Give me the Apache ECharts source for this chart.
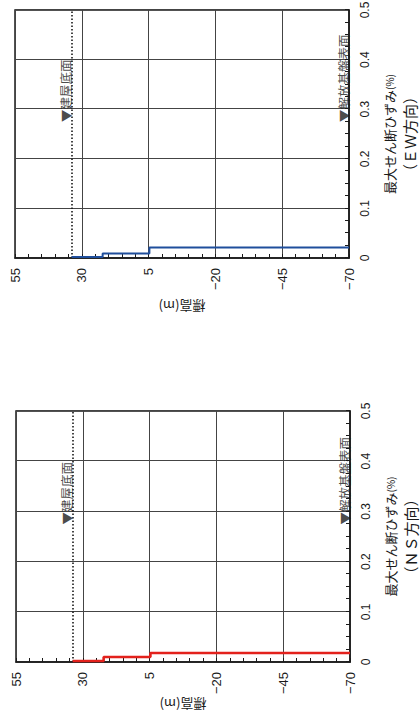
<!DOCTYPE html>
<html><head><meta charset="utf-8">
<script src="https://cdn.jsdelivr.net/npm/echarts@6/dist/echarts.min.js"></script>
<style>
html,body{margin:0;padding:0;background:#fff;overflow:hidden;width:420px;height:722px;}
#wrap{position:absolute;left:0;top:0;width:722px;height:420px;transform-origin:0 0;transform:translate(0,722px) rotate(-90deg);}
#chart{width:722px;height:420px;}
</style></head><body>
<div id="wrap"><div id="chart"></div></div>
<script>
// ---- data ----
const panelNames = ['NS', 'EW'];
const layerTop = [33.8, 22.2, 4.7];       // elevation (m), top of each layer
const layerBottom = [22.2, 4.7, -70];     // elevation (m), bottom of each layer
const strainNS = [0.002, 0.010, 0.018];   // max shear strain (%)
const strainEW = [0.002, 0.009, 0.021];
const baseElev = 33.8;                    // 建屋底面
const bedrockElev = -70;                  // 解放基盤表面
const elevRange = [-70, 55];
const elevInterval = 25;
const strainRange = [0, 0.5];
const strainInterval = 0.1;
const markerLabels = ['▼建屋底面', '▼解放基盤表面'];
const markerStrain = 0.275;
const xTitle = '最大せん断ひずみ';
const xUnit = '(%)';
const dirTitles = ['（ＮＳ方向）', '（ＥＷ方向）'];
const yTitle = '標高(m)';
const lineColors = ['#e3211c', '#1f4e9c'];
const lineWidths = [2.6, 2];

// ---- build ----
function stepPoints(strains) {
  const pts = [];
  for (let i = 0; i < strains.length; i++) {
    pts.push([strains[i], layerTop[i]]);
    pts.push([strains[i], layerBottom[i]]);
  }
  return pts;
}
const strainSets = [strainNS, strainEW];
const grids = [
  {left: 60, top: 16, width: 251, height: 334},
  {left: 464, top: 15, width: 248, height: 334}
];
const yNameGaps = [34, 42];
const ink = '#1a1a1a';
const numFont = "'Liberation Sans', Arial, sans-serif";
const jpFont = "'Noto Sans CJK JP', sans-serif";

const series = [];
strainSets.forEach((s, i) => {
  series.push({
    type: 'line', xAxisIndex: i, yAxisIndex: i,
    data: stepPoints(s), showSymbol: false, symbol: 'none',
    lineStyle: {color: lineColors[i], width: lineWidths[i]},
    z: 5,
    markLine: {
      silent: true, symbol: 'none',
      lineStyle: {color: ink, type: [1.5, 2], width: 1.6},
      label: {show: false},
      data: [{yAxis: baseElev}]
    }
  });
  series.push({
    type: 'scatter', xAxisIndex: i, yAxisIndex: i,
    symbolSize: 1, itemStyle: {color: 'rgba(0,0,0,0)'},
    silent: true, z: 6,
    label: {show: true, position: [0, 1], align: 'left', verticalAlign: 'bottom',
      color: ink, fontFamily: jpFont, fontSize: 12.5, formatter: p => p.name},
    data: [
      {name: markerLabels[0], value: [markerStrain, baseElev]},
      {name: markerLabels[1], value: [markerStrain, bedrockElev]}
    ]
  });
});

const option = {
  animation: false,
  backgroundColor: '#fff',
  grid: grids.map(g => Object.assign({show: true, borderColor: ink, borderWidth: 1.5, backgroundColor: 'transparent', outerBoundsMode: 'none'}, g)),
  xAxis: grids.map((g, i) => ({
    type: 'value', gridIndex: i, min: strainRange[0], max: strainRange[1], interval: strainInterval,
    position: 'bottom',
    axisLine: {show: true, onZero: false, lineStyle: {color: ink, width: 1.5}},
    axisTick: {show: true, inside: true, length: 4, lineStyle: {color: ink}},
    minorTick: {show: true, splitNumber: 4, length: 4, lineStyle: {color: ink}},
    splitLine: {show: true, lineStyle: {color: '#444', width: 1}},
    axisLabel: {color: ink, fontFamily: numFont, fontSize: 12, margin: 10, formatter: v => String(+v.toFixed(1))},
    name: '{a|' + xTitle + '}{u|' + xUnit + '}\n{b|' + dirTitles[i] + '}',
    nameLocation: 'middle', nameGap: 30,
    nameTextStyle: {
      color: ink,
      rich: {
        a: {fontFamily: jpFont, fontSize: 13, color: ink, lineHeight: 20},
        u: {fontFamily: jpFont, fontSize: 10, color: ink, lineHeight: 20},
        b: {fontFamily: jpFont, fontSize: 15, color: ink, lineHeight: 20}
      }
    }
  })),
  yAxis: grids.map((g, i) => ({
    type: 'value', gridIndex: i, min: elevRange[0], max: elevRange[1], interval: elevInterval,
    axisLine: {show: true, onZero: false, lineStyle: {color: ink, width: 1.5}},
    axisTick: {show: true, inside: true, length: 4, lineStyle: {color: ink}},
    minorTick: {show: true, splitNumber: 5, length: 4, lineStyle: {color: ink}},
    splitLine: {show: true, lineStyle: {color: '#444', width: 1}},
    axisLabel: {color: ink, fontFamily: numFont, fontSize: 13, margin: 10, formatter: v => String(v).replace('-', '−')},
    name: yTitle, nameLocation: 'middle', nameGap: yNameGaps[i], nameRotate: 90,
    nameTextStyle: {color: ink, fontFamily: jpFont, fontSize: 13}
  })),
  series: series
};
const chart = echarts.init(document.getElementById('chart'), null, {renderer: 'svg'});
chart.setOption(option);
</script>
</body></html>
